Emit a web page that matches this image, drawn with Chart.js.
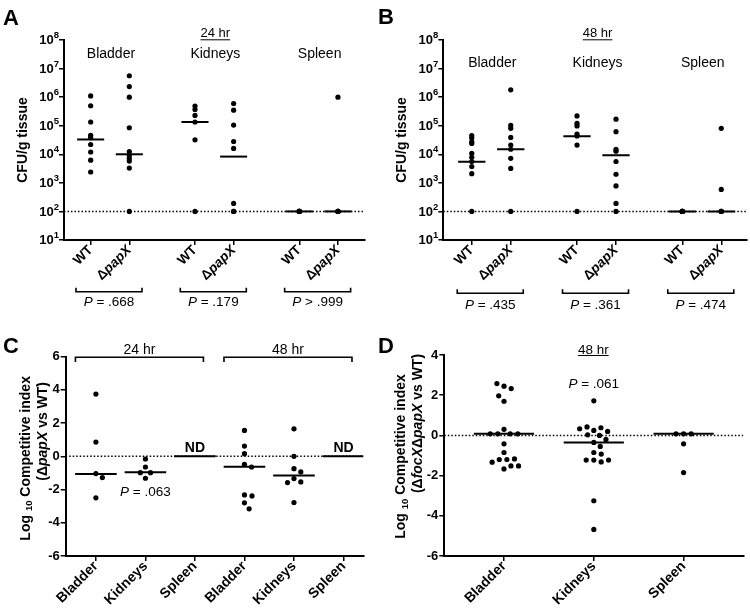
<!DOCTYPE html>
<html>
<head>
<meta charset="utf-8">
<title>papX bladder, kidney and spleen colonisation</title>
<script src="https://cdn.jsdelivr.net/npm/chart.js@4.4.1/dist/chart.umd.min.js"></script>
<style>
  body { margin: 0; background: #fff; }
  .figure { position: relative; width: 750px; height: 614px; }
  .figure canvas { position: absolute; }
</style>
</head>
<body>
<div class="figure">
  <canvas id="panelC" width="375" height="314" style="left:0;top:300px"></canvas>
  <canvas id="panelD" width="375" height="314" style="left:375px;top:300px"></canvas>
  <canvas id="panelA" width="375" height="314" style="left:0;top:0"></canvas>
  <canvas id="panelB" width="375" height="314" style="left:375px;top:0"></canvas>
</div>
<script>
// ---- data ----
const organs = ['Bladder', 'Kidneys', 'Spleen']
const strains = ['WT', 'ΔpapX']
const detectionLimit = 100

// CFU/g tissue, columns: bladder WT, bladder ΔpapX, kidneys WT, kidneys ΔpapX, spleen WT, spleen ΔpapX
const cfu24hr = [
  [1.1e6, 5e5, 1.35e5, 4.6e4, 3.8e4, 2.2e4, 1.2e4, 6.2e3, 2.4e3],
  [5.6e6, 2.35e6, 1.0e6, 8.5e4, 1.23e4, 9.3e3, 7.2e3, 5.8e3, 3.3e3, 100],
  [4.9e5, 3.7e5, 2.3e5, 1.35e5, 3.2e4, 100],
  [6e5, 3.5e5, 1.05e5, 2.8e4, 1.6e4, 190, 100, 100],
  [100, 100, 100, 100, 100],
  [1.0e6, 100, 100, 100, 100],
]
const median24hr = [3.3e4, 1.0e4, 1.35e5, 8.3e3, 100, 100]
const pValues24hr = ['= .668', '= .179', '> .999']

const cfu48hr = [
  [4.5e4, 3.7e4, 2.75e4, 2.4e4, 1.07e4, 7.8e3, 5.6e3, 3.7e3, 2.1e3, 100],
  [1.8e6, 1.02e5, 8.1e4, 3.9e4, 2.1e4, 1.5e4, 7.2e3, 3.2e3, 100],
  [2.2e5, 1.2e5, 9.8e4, 5.1e4, 4.4e4, 2.1e4, 100],
  [1.7e5, 6.2e4, 1.48e4, 1.29e4, 5.6e3, 2e3, 780, 190, 100],
  [100, 100, 100, 100, 100],
  [8.1e4, 590, 100, 100, 100],
]
const median48hr = [5.5e3, 1.5e4, 4.3e4, 9.3e3, 100, 100]
const pValues48hr = ['= .435', '= .361', '= .474']

const cfuDecades = [1, 2, 3, 4, 5, 6, 7, 8]

// log10 competitive index ΔpapX vs WT: 24 hr bladder, kidneys, spleen, then 48 hr
const ciTimes = ['24 hr', '48 hr']
const ciPapX = [
  [3.75, 0.86, -1.04, -1.28, -2.5],
  [-0.16, -0.64, -0.98, -0.98, -1.32],
  [],
  [1.56, 0.62, 0.16, -0.48, -0.64, -2.32, -2.38, -2.8, -3.16],
  [1.66, 0.0, -0.74, -0.94, -1.34, -1.54, -1.58, -2.78],
  [],
]
const ciPapXMedian = [-1.07, -0.96, 0, -0.63, -1.15, 0]
const ciPapXNotDetermined = [2, 5]
const ciPapXPValue = { column: 1, text: '= .063' }

// log10 competitive index ΔfocXΔpapX vs WT, 48 hr
const ciFocPapX = [
  [2.45, 2.33, 2.58, 1.70, 1.97, 0.30, 0.08, 0.08, 0.08, 0.08, -0.42, -0.85, -1.2, -1.2, -1.17, -1.33, -1.52, -1.52, -1.67],
  [1.72, 0.25, 0.38, 0.42, 0.33, 0.2, 0.03, 0.0, -0.2, -0.35, -0.55, -0.85, -0.93, -1.23, -1.32, -1.23, -1.23, -3.25, -4.68],
  [0.08, 0.08, 0.08, -0.42, -1.85],
]
const ciFocPapXMedian = [0.08, -0.35, 0.08]
const ciFocPapXPValue = { column: 1, text: '= .061' }

// ---- drawing helpers ----
const FONT = '"Liberation Sans", Arial, Helvetica, sans-serif'
const f = (size, weight = 'normal', style = 'normal') => `${style} ${weight} ${size}px ${FONT}`
const BLACK = '#000'

const strainX = (i) => Math.floor(i / 2) * 2.7 + (i % 2)

function drawRich(ctx, parts, x, y, align = 'center') {
  let total = 0
  parts.forEach((p) => { ctx.font = p.font; total += ctx.measureText(p.text).width })
  let cx = align === 'center' ? x - total / 2 : align === 'right' ? x - total : x
  ctx.textAlign = 'left'
  parts.forEach((p) => {
    ctx.font = p.font
    ctx.fillText(p.text, cx, y + (p.dy || 0))
    cx += ctx.measureText(p.text).width
  })
  return total
}

function drawTilted(ctx, parts, x, y, angle, align) {
  ctx.save()
  ctx.translate(x, y)
  ctx.rotate(angle)
  ctx.textBaseline = 'middle'
  drawRich(ctx, parts, 0, 0, align)
  ctx.restore()
}

function segment(ctx, pts, width) {
  ctx.lineWidth = width
  ctx.beginPath()
  pts.forEach(([x, y], k) => (k ? ctx.lineTo(x, y) : ctx.moveTo(x, y)))
  ctx.stroke()
}

function strainParts(name, size) {
  if (name.startsWith('Δ')) {
    return [{ text: 'Δ', font: f(size, 'bold') }, { text: name.slice(1), font: f(size, 'bold', 'italic') }]
  }
  return [{ text: name, font: f(size, 'bold') }]
}

function pParts(text, size) {
  return [{ text: 'P', font: f(size, 'normal', 'italic') }, { text: ' ' + text, font: f(size) }]
}

function axisLines() {
  return {
    grid: { display: true, drawOnChartArea: false, drawTicks: true, tickLength: 5, color: BLACK, lineWidth: 1.5 },
    border: { display: true, color: BLACK, width: 2 },
  }
}

function columnDatasets(groups, medians, xOf, halfWidth, refY, xMin, xMax) {
  const dots = []
  groups.forEach((vals, i) => vals.forEach((v) => dots.push({ x: xOf(i), y: v })))
  const sets = [{
    type: 'scatter', data: dots, pointRadius: 2.6, pointHoverRadius: 2.6,
    pointBackgroundColor: BLACK, pointBorderWidth: 0,
  }]
  medians.forEach((m, i) => sets.push({
    type: 'line', data: [{ x: xOf(i) - halfWidth, y: m }, { x: xOf(i) + halfWidth, y: m }],
    borderColor: BLACK, borderWidth: 2, pointRadius: 0,
  }))
  sets.push({
    type: 'line', data: [{ x: xMin, y: refY }, { x: xMax, y: refY }],
    borderColor: BLACK, borderWidth: 1.5, borderDash: [1.5, 2], pointRadius: 0,
  })
  return sets
}

// spread overlapping dots sideways like a column scatter plot
function swarm(chart, groups, xOf, gap) {
  const xs = chart.scales.x
  const ys = chart.scales.y
  const unit = xs.getPixelForValue(1) - xs.getPixelForValue(0)
  const data = []
  groups.forEach((vals, gi) => {
    const placed = []
    vals.forEach((v) => {
      const py = ys.getPixelForValue(v)
      const near = placed.filter((p) => Math.abs(p.py - py) < gap)
      const cands = [0]
      near.forEach((p) => {
        const w = Math.sqrt(gap * gap - (p.py - py) ** 2)
        cands.push(p.dx + w, p.dx - w)
      })
      cands.sort((a, b) => Math.abs(a) - Math.abs(b))
      const dx = cands.find((c) => near.every((p) => Math.hypot(p.dx - c, p.py - py) >= gap - 1e-6))
      placed.push({ dx, py })
      data.push({ x: xOf(gi) + dx / unit, y: v })
    })
  })
  chart.data.datasets[0].data = data
  chart.update('none')
}

// ---- panels A and B: CFU/g tissue ----
function cfuChart(id, groups, medians, d) {
  const xTicks = groups.map((_, i) => strainX(i))
  const decor = {
    id: 'cfuDecor',
    afterDraw(chart) {
      const ctx = chart.ctx
      const area = chart.chartArea
      const ys = chart.scales.y
      const px = (i) => chart.scales.x.getPixelForValue(strainX(i))
      ctx.save()
      ctx.fillStyle = BLACK
      ctx.strokeStyle = BLACK

      ctx.font = f(22, 'bold')
      ctx.textAlign = 'left'
      ctx.textBaseline = 'alphabetic'
      ctx.fillText(d.letter, 3, d.letterBase)

      ctx.textBaseline = 'middle'
      cfuDecades.forEach((e) => {
        drawRich(ctx, [
          { text: '10', font: f(13, 'bold') },
          { text: String(e), font: f(9.5, 'bold'), dy: -5 },
        ], area.left - 5, ys.getPixelForValue(10 ** e) + 0.5, 'right')
      })

      const tx = (px(2) + px(3)) / 2 + 1
      const tw = drawRich(ctx, [{ text: d.time, font: f(13) }], tx, 33.5)
      segment(ctx, [[tx - tw / 2, 39.8], [tx + tw / 2, 39.8]], 1)

      organs.forEach((o, k) => {
        const mid = (px(2 * k) + px(2 * k + 1)) / 2 + 1
        drawRich(ctx, [{ text: o, font: f(14) }], mid, d.organY)
        const c = mid - 2
        segment(ctx, [[c - 33, d.bracketY - 4], [c - 33, d.bracketY], [c + 33, d.bracketY], [c + 33, d.bracketY - 4]], 1.6)
        drawRich(ctx, pParts(d.pValues[k], 13.5), c, d.pY)
      })

      groups.forEach((_, i) => {
        drawTilted(ctx, strainParts(strains[i % 2], 13.5), px(i), area.bottom + 8, -Math.PI / 4, 'right')
      })

      drawTilted(ctx, [{ text: 'CFU/g tissue', font: f(14, 'bold') }], area.left - 41, (area.top + area.bottom) / 2, -Math.PI / 2, 'center')
      ctx.restore()
    },
  }

  return new Chart(document.getElementById(id), {
    type: 'scatter',
    data: { datasets: columnDatasets(groups, medians, strainX, 0.35, detectionLimit, d.xMin, d.xMax) },
    options: {
      responsive: false,
      animation: false,
      layout: { padding: d.padding },
      plugins: { legend: { display: false }, tooltip: { enabled: false } },
      scales: {
        x: {
          type: 'linear', min: d.xMin, max: d.xMax,
          ticks: { display: false },
          afterBuildTicks: (s) => { s.ticks = xTicks.map((value) => ({ value })) },
          afterFit: (s) => { s.height = d.xHeight },
          ...axisLines(),
        },
        y: {
          type: 'logarithmic', min: 10, max: 1e8,
          ticks: { display: false },
          afterBuildTicks: (s) => { s.ticks = cfuDecades.map((e) => ({ value: 10 ** e })) },
          afterFit: (s) => { s.width = d.yWidth },
          ...axisLines(),
        },
      },
    },
    plugins: [decor],
  })
}

cfuChart('panelA', cfu24hr, median24hr, {
  letter: 'A', letterBase: 25, time: '24 hr', organY: 54.5, bracketY: 291.7, pY: 302.5,
  pValues: pValues24hr, xMin: -0.69, xMax: 7.1,
  padding: { left: 0, right: 10, top: 40, bottom: 14 }, yWidth: 64, xHeight: 60,
})

cfuChart('panelB', cfu48hr, median48hr, {
  letter: 'B', letterBase: 23.5, time: '48 hr', organY: 63, bracketY: 293.3, pY: 305,
  pValues: pValues48hr, xMin: -0.73, xMax: 7.06,
  padding: { left: 0, right: 3, top: 40, bottom: 14 }, yWidth: 68.3, xHeight: 60,
})

// ---- panels C and D: competitive index ----
function ciChart(id, groups, medians, d, drawExtras) {
  const xOf = (i) => i
  const xTicks = groups.map((_, i) => i)
  const decor = {
    id: 'ciDecor',
    afterDraw(chart) {
      const ctx = chart.ctx
      const area = chart.chartArea
      const px = (i) => chart.scales.x.getPixelForValue(i)
      ctx.save()
      ctx.fillStyle = BLACK
      ctx.strokeStyle = BLACK

      ctx.font = f(22, 'bold')
      ctx.textAlign = 'left'
      ctx.textBaseline = 'alphabetic'
      ctx.fillText(d.letter, 3, 53.3)
      ctx.textBaseline = 'middle'

      drawExtras(ctx, px, area)

      d.labels.forEach((name, i) => {
        drawTilted(ctx, [{ text: name, font: f(14, 'bold') }], px(i), area.bottom + 8, -Math.PI / 4, 'right')
      })

      const midY = (area.top + area.bottom) / 2
      drawTilted(ctx, [
        { text: 'Log ', font: f(14, 'bold') },
        { text: '10', font: f(9.5, 'bold'), dy: 4 },
        { text: ' Competitive index', font: f(14, 'bold') },
      ], area.left - d.title1Off, midY + d.title1Shift, -Math.PI / 2, 'center')
      drawTilted(ctx, d.title2, area.left - d.title2Off, midY + d.title2Shift, -Math.PI / 2, 'center')
      ctx.restore()
    },
  }

  const chart = new Chart(document.getElementById(id), {
    type: 'scatter',
    data: { datasets: columnDatasets(groups, medians, xOf, d.halfWidth, 0, d.xMin, d.xMax) },
    options: {
      responsive: false,
      animation: false,
      layout: { padding: d.padding },
      plugins: { legend: { display: false }, tooltip: { enabled: false } },
      scales: {
        x: {
          type: 'linear', min: d.xMin, max: d.xMax,
          ticks: { display: false },
          afterBuildTicks: (s) => { s.ticks = xTicks.map((value) => ({ value })) },
          afterFit: (s) => { s.height = d.xHeight },
          ...axisLines(),
        },
        y: {
          type: 'linear', min: d.yMin, max: d.yMax,
          ticks: { stepSize: 2, color: BLACK, padding: 1, font: { family: FONT, size: 13, weight: 'bold' }, callback: (v) => String(v) },
          afterFit: (s) => { s.width = d.yWidth },
          ...axisLines(),
        },
      },
    },
    plugins: [decor],
  })
  swarm(chart, groups, xOf, 7.6)
  return chart
}

ciChart('panelC', ciPapX, ciPapXMedian, {
  letter: 'C', labels: [...organs, ...organs], xMin: -0.61, xMax: 5.4, yMin: -6, yMax: 6,
  halfWidth: 0.42, padding: { left: 0, right: 11.7, top: 56.7, bottom: 0 }, yWidth: 65.7, xHeight: 58,
  title1Off: 40, title1Shift: 2, title2Off: 23, title2Shift: -25,
  title2: [
    { text: '(Δ', font: f(14, 'bold') },
    { text: 'papX', font: f(14, 'bold', 'italic') },
    { text: ' vs WT)', font: f(14, 'bold') },
  ],
}, (ctx, px) => {
  ciTimes.forEach((t, k) => {
    const c = (px(3 * k) + px(3 * k + 2)) / 2 - 6
    segment(ctx, [[c - 64, 62], [c - 64, 57.3], [c + 64, 57.3], [c + 64, 62]], 1.6)
    drawRich(ctx, [{ text: t, font: f(14) }], c, 50.5)
  })
  ciPapXNotDetermined.forEach((i) => drawRich(ctx, [{ text: 'ND', font: f(14, 'bold') }], px(i), 148.5))
  drawRich(ctx, pParts(ciPapXPValue.text, 13.5), px(ciPapXPValue.column), 192)
})

ciChart('panelD', ciFocPapX, ciFocPapXMedian, {
  letter: 'D', labels: organs, xMin: -0.665, xMax: 2.665, yMin: -6, yMax: 4,
  halfWidth: 0.335, padding: { left: 0, right: 6.7, top: 55, bottom: 0 }, yWidth: 69.3, xHeight: 58,
  title1Off: 43, title1Shift: 1, title2Off: 26, title2Shift: -32,
  title2: [
    { text: '(Δ', font: f(14, 'bold') },
    { text: 'focX', font: f(14, 'bold', 'italic') },
    { text: 'Δ', font: f(14, 'bold') },
    { text: 'papX', font: f(14, 'bold', 'italic') },
    { text: ' vs WT)', font: f(14, 'bold') },
  ],
}, (ctx, px) => {
  const c = px(1) - 0.5
  const tw = drawRich(ctx, [{ text: '48 hr', font: f(13.5) }], c, 50)
  segment(ctx, [[c - tw / 2, 55.5], [c + tw / 2, 55.5]], 1)
  drawRich(ctx, pParts(ciFocPapXPValue.text, 13.5), px(ciFocPapXPValue.column), 84)
})
</script>
</body>
</html>
